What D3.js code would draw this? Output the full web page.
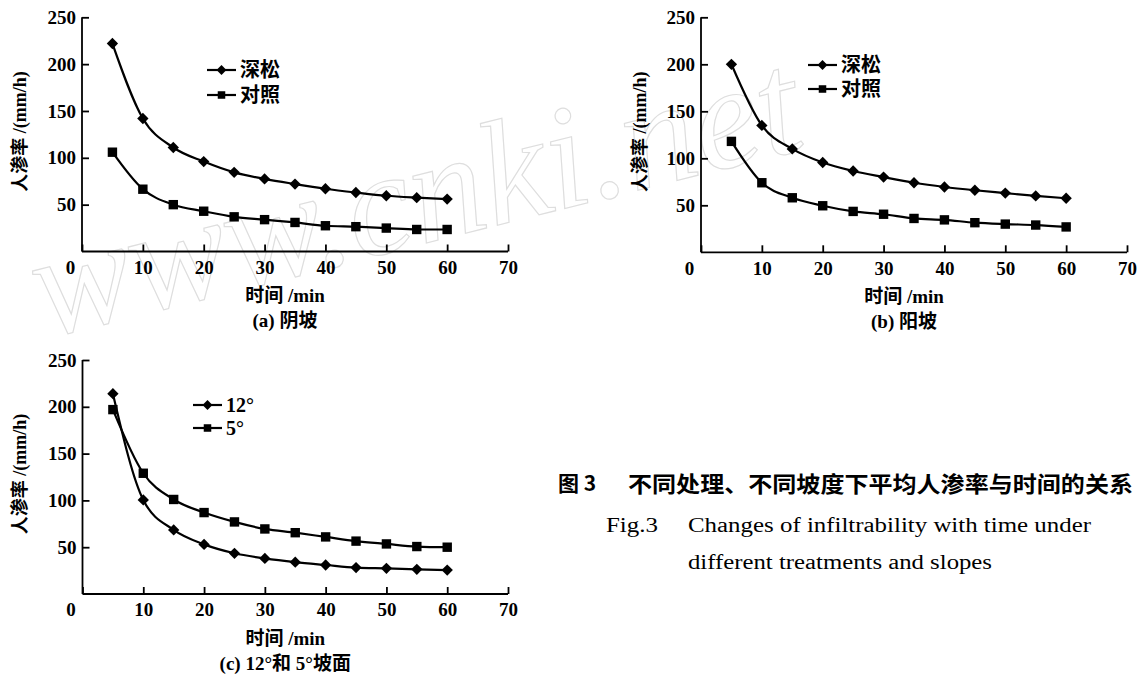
<!DOCTYPE html>
<html><head><meta charset="utf-8">
<script src="https://cdn.jsdelivr.net/npm/d3@7"></script>
<style>body{margin:0;background:#fff}</style>
</head><body><svg id="c" width="1142" height="678"></svg>
<script>
// ---- data ----
const times = [5,10,15,20,25,30,35,40,45,50,55,60];
const shadeDeep = [222,142,111,96,84.5,77.5,72,67,63,59.5,57.5,56];
const shadeCtrl = [106,66.5,50,43,37,34,31,27.5,26.5,25,23.5,23.5];
const sunDeep = [200,135,110,95.5,86.5,80,74,69.5,66,63,60,57.5];
const sunCtrl = [118,74,58,49.5,43.5,40.5,36,34.5,31.5,30,29,27];
const slope12 = [214,100.5,68.5,53,43.5,38,34,31,28.2,27.4,26.4,25.6];
const slope5 = [197,129,101,87,77,69.5,65.5,61,56.5,53.5,50.7,50];
const xTicks = [0,10,20,30,40,50,60,70];
const yTicks = [50,100,150,200,250];
const legendA = ["深松","对照"];
const legendC = ["12°","5°"];
const yTitle = "人渗率 /(mm/h)";
const xTitle = "时间 /min";
const subTitles = ["(a) 阴坡","(b) 阳坡","(c) 12°和 5°坡面"];
const captionCN1 = "图 3";
const captionCN2 = "不同处理、不同坡度下平均人渗率与时间的关系";
const captionFig = "Fig.3";
const captionEN1 = "Changes of infiltrability with time under";
const captionEN2 = "different treatments and slopes";

const svg = d3.select("#c");
const FONT = "'Liberation Serif','Noto Sans CJK SC',serif";

// watermark
svg.append("text").text("www.cnki.net")
  .attr("transform","translate(45,338) rotate(-14)")
  .attr("font-family","'Liberation Serif',serif").attr("font-style","italic")
  .attr("font-size",148).attr("fill","none").attr("stroke","#dedede").attr("stroke-width",1.2);

const panels = [
  {xr:[82,508], yr:[251.5,17.3], s:[shadeDeep,shadeCtrl], leg:legendA, lx:207, ly:[70,95], ylx:20, sub:subTitles[0]},
  {xr:[701,1127], yr:[252.3,17.3], s:[sunDeep,sunCtrl], leg:legendA, lx:808, ly:[65,89], ylx:640, sub:subTitles[1]},
  {xr:[82.5,508], yr:[594,360], s:[slope12,slope5], leg:legendC, lx:193, ly:[405,428], ylx:20, sub:subTitles[2]}
];

function marker(g, type, x, y, sz){
  if(type===0){
    g.append("path").attr("d", d3.symbol().type(d3.symbolSquare).size(sz*sz)())
     .attr("transform",`translate(${x},${y}) rotate(45)`).attr("fill","#000");
  } else {
    g.append("rect").attr("x",x-sz*0.47).attr("y",y-sz*0.47).attr("width",sz*0.94).attr("height",sz*0.94).attr("fill","#000");
  }
}

panels.forEach(p=>{
  const x = d3.scaleLinear().domain([0,70]).range(p.xr);
  const y = d3.scaleLinear().domain([0,250]).range(p.yr);
  const g = svg.append("g");
  const xa = g.append("g").attr("transform",`translate(0,${p.yr[0]})`)
    .call(d3.axisBottom(x).tickValues(xTicks).tickSizeInner(-7).tickSizeOuter(0).tickPadding(9));
  xa.selectAll("text").filter(d=>d===0).attr("dx",-12);
  const ya = g.append("g").attr("transform",`translate(${p.xr[0]},0)`)
    .call(d3.axisLeft(y).tickValues(yTicks).tickSizeInner(-7).tickSizeOuter(0).tickPadding(6));
  [xa,ya].forEach(a=>{
    a.selectAll("path,line").attr("stroke","#000").attr("stroke-width",1.8);
    a.selectAll("text").attr("font-family",FONT).attr("font-weight","bold").attr("font-size",19).attr("fill","#000");
  });
  ya.select(".domain").attr("d",`M0,${y(250)}V${y(0)}`);
  xa.select(".domain").attr("d",`M${x(0)},0H${x(70)}`);
  const line = d3.line().x((d,i)=>x(times[i])).y(d=>y(d)).curve(d3.curveMonotoneX);
  p.s.forEach((vals,k)=>{
    g.append("path").attr("d",line(vals)).attr("fill","none").attr("stroke","#000").attr("stroke-width",2.2);
    vals.forEach((v,i)=>marker(g,k,x(times[i]),y(v),k===0?8:10));
    const ly = p.ly[k];
    g.append("line").attr("x1",p.lx).attr("x2",p.lx+29).attr("y1",ly).attr("y2",ly).attr("stroke","#000").attr("stroke-width",2.2);
    marker(g,k,p.lx+14.5,ly,k===0?7:8);
    g.append("text").text(p.leg[k]).attr("x",p.lx+33).attr("y",ly).attr("dominant-baseline","central")
      .attr("font-family",FONT).attr("font-weight","bold").attr("font-size",20).attr("fill","#000");
  });
  const cx = (x(0)+x(70))/2 - 10;
  g.append("text").text(yTitle).attr("transform",`translate(${p.ylx},${(p.yr[0]+p.yr[1])/2 - 3}) rotate(-90)`)
    .attr("text-anchor","middle").attr("dominant-baseline","central")
    .attr("font-family",FONT).attr("font-weight","bold").attr("font-size",18).attr("fill","#000");
  g.append("text").text(xTitle).attr("x",cx).attr("y",p.yr[0]+44).attr("text-anchor","middle").attr("dominant-baseline","central")
    .attr("font-family",FONT).attr("font-weight","bold").attr("font-size",19).attr("fill","#000");
  g.append("text").text(p.sub).attr("x",cx).attr("y",p.yr[0]+69).attr("text-anchor","middle").attr("dominant-baseline","central")
    .attr("font-family",FONT).attr("font-weight","bold").attr("font-size",19).attr("fill","#000");
});

// caption
svg.append("text").text(captionCN1).attr("x",558).attr("y",482).attr("dominant-baseline","central")
  .attr("font-family","'Noto Sans CJK SC',sans-serif").attr("font-weight","bold").attr("font-size",21).attr("fill","#000");
svg.append("text").text(captionCN2).attr("x",628).attr("y",482).attr("dominant-baseline","central")
  .attr("textLength",505).attr("lengthAdjust","spacingAndGlyphs")
  .attr("font-family","'Noto Sans CJK SC',sans-serif").attr("font-weight","bold").attr("font-size",22).attr("fill","#000");
svg.append("text").text(captionFig).attr("x",606).attr("y",525).attr("dominant-baseline","central")
  .attr("textLength",52).attr("lengthAdjust","spacingAndGlyphs")
  .attr("font-family","'Liberation Serif',serif").attr("font-size",20).attr("fill","#000");
svg.append("text").text(captionEN1).attr("x",688).attr("y",525).attr("dominant-baseline","central")
  .attr("textLength",403).attr("lengthAdjust","spacingAndGlyphs")
  .attr("font-family","'Liberation Serif',serif").attr("font-size",20).attr("fill","#000");
svg.append("text").text(captionEN2).attr("x",688).attr("y",562).attr("dominant-baseline","central")
  .attr("textLength",304).attr("lengthAdjust","spacingAndGlyphs")
  .attr("font-family","'Liberation Serif',serif").attr("font-size",20).attr("fill","#000");
</script></body></html>
